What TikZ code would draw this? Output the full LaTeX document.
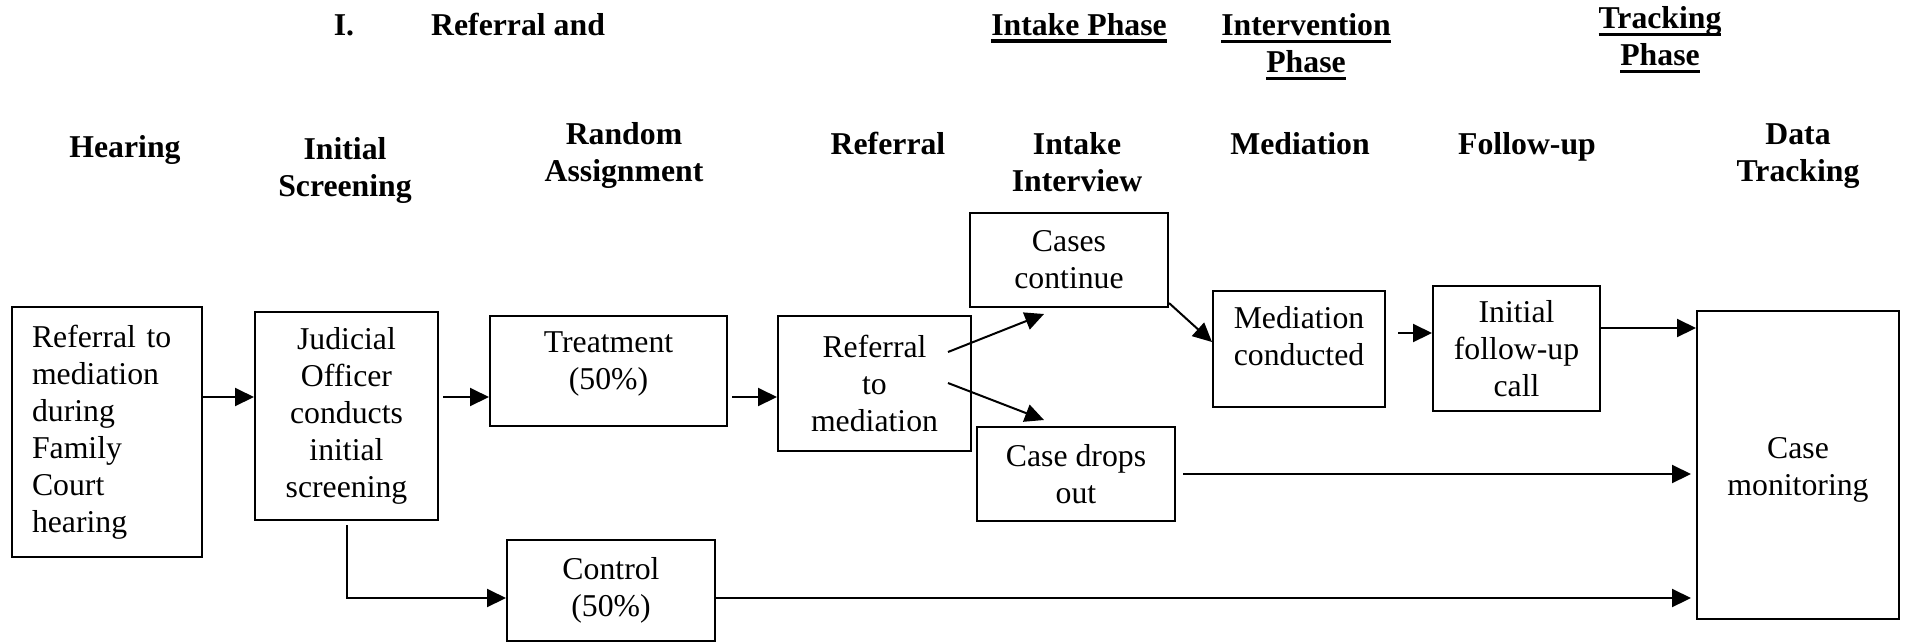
\documentclass[tikz,border=0pt]{standalone}
\usepackage{fontspec}
\setmainfont{Liberation Serif}
\usetikzlibrary{arrows.meta,calc}
% heading text with a heavy underline a little below the baseline
\newcommand\phaseul[1]{\leavevmode\setbox0\hbox{#1}\rlap{\vrule height -4pt depth 7.5pt width\wd0}\box0}
\begin{document}
\begin{tikzpicture}[x=1pt,y=-1pt,
  every node/.style={font=\fontsize{31.75pt}{37pt}\selectfont, inner sep=0pt, align=center},
  box/.style={draw, line width=2pt},
  txt/.style={},
  hdr/.style={font=\fontsize{31.75pt}{37pt}\selectfont\bfseries},
  arr/.style={line width=2pt, -{Triangle[length=19pt,width=18pt]}}]

\fill[white] (0,0) rectangle (1905,641);
\useasboundingbox (0,0) rectangle (1905,641);

% phase titles
\node[hdr, anchor=base] (tNum) at (344,35) {I.};
\node[hdr, anchor=base west] (tRef) at (431,35) {Referral and};
\node[hdr, anchor=base] (tIntake) at (1079,35) {\phaseul{Intake Phase}};
\node[hdr, anchor=north] (tInterv) at (1306,13.5) {\phaseul{Intervention}\\\phaseul{Phase}};
\node[hdr, anchor=north] (tTrack) at (1660,6.5) {\phaseul{Tracking}\\\phaseul{Phase}};

% step headings
\node[hdr, anchor=base] (hHear) at (125,157) {Hearing};
\node[hdr, anchor=north] (hScreen) at (345,137.5) {Initial\\Screening};
\node[hdr, anchor=north] (hRand) at (624,122.5) {Random\\Assignment};
\node[hdr, anchor=base] (hRef) at (888,154) {Referral};
\node[hdr, anchor=north] (hIntake) at (1077,132.5) {Intake\\Interview};
\node[hdr, anchor=base] (hMed) at (1300,154) {Mediation};
\node[hdr, anchor=base] (hFol) at (1527,154) {Follow-up};
\node[hdr, anchor=north] (hData) at (1798,123.5) {Data\\Tracking};

% process boxes
\node[box, minimum width=190pt, minimum height=250pt, text width=150pt, align=left] (hear) at (107,432)
  {Referral to\\mediation\\during\\Family\\Court\\hearing};
\node[box, minimum width=183pt, minimum height=208pt] (judi) at (346.5,416)
  {Judicial\\Officer\\conducts\\initial\\screening};
\node[box, minimum width=237pt, minimum height=110pt] (treat) at (608.5,371) {};
\node[txt] (treattxt) at (608.5,364) {Treatment\\(50\%)};
\node[box, minimum width=193pt, minimum height=135pt] (ref) at (874.5,383.5) {Referral\\to\\mediation};
\node[box, minimum width=198pt, minimum height=94pt] (cont) at (1069,260) {Cases\\continue};
\node[box, minimum width=198pt, minimum height=94pt] (drop) at (1076,474) {Case drops\\out};
\node[box, minimum width=172pt, minimum height=116pt] (med) at (1299,349) {};
\node[txt] (medtxt) at (1299,336) {Mediation\\conducted};
\node[box, minimum width=167pt, minimum height=125pt] (fol) at (1516.5,348.5) {Initial\\follow-up\\call};
\node[box, minimum width=202pt, minimum height=308pt] (mon) at (1798,465) {};
\node[txt] (montxt) at (1798,470) {Case\\monitoring};
\node[box, minimum width=208pt, minimum height=101pt] (ctrl) at (611,590.5) {Control\\(50\%)};

% connector rows
\coordinate (rowA) at (0,397);
\coordinate (rowB) at (0,333);
\coordinate (rowC) at (0,328);
\coordinate (rowD) at (0,598);

\draw[arr] (hear.east |- rowA) -- (judi.west |- rowA);
\draw[arr, shorten <=4pt] (judi.east |- rowA) -- (treat.west |- rowA);
\draw[arr, shorten <=4pt] (treat.east |- rowA) -- (ref.west |- rowA);
\draw[arr] ($(ref.north east)+(-24,37)$) -- ($(cont.south west)+(75,6)$);
\draw[arr] ($(ref.north east)+(-24,68)$) -- ($(drop.north west)+(68,-6)$);
\draw[arr] ($(cont.south east)+(0,-5)$) -- ($(med.north west)+(0,52)$);
\draw[arr, shorten <=12pt] (med.east |- rowB) -- (fol.west |- rowB);
\draw[arr] (fol.east |- rowC) -- (mon.west |- rowC);
\draw[arr, shorten <=7pt, shorten >=5pt] (drop.east) -- (mon.west |- drop.east);
\draw[arr, shorten <=4pt] (judi.south) -- (judi.south |- rowD) -- (ctrl.west |- rowD);
\draw[arr, shorten >=5pt] (ctrl.east |- rowD) -- (mon.west |- rowD);
\end{tikzpicture}
\end{document}
